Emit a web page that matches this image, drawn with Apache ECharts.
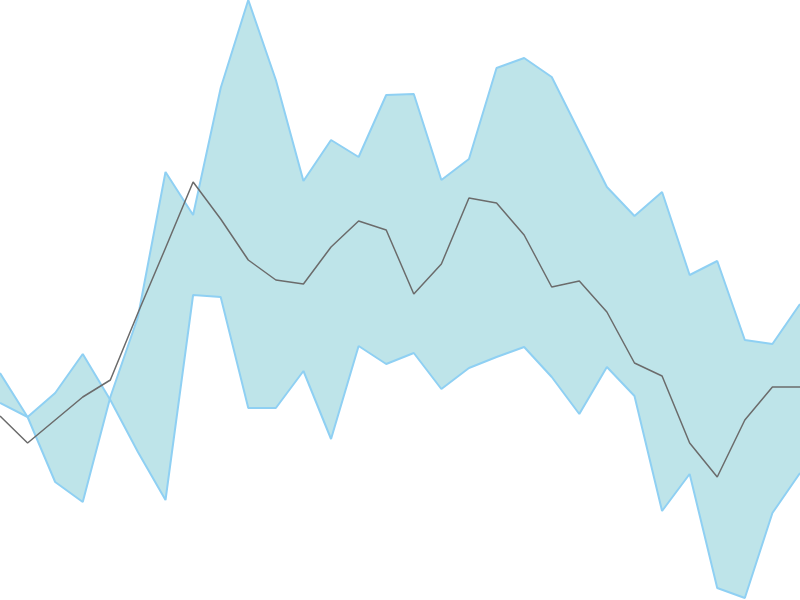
<!DOCTYPE html>
<html>
<head>
<meta charset="utf-8">
<script src="https://cdn.jsdelivr.net/npm/echarts@6/dist/echarts.min.js"></script>
<style>html,body{margin:0;padding:0;background:#fff}#c{width:800px;height:600px}</style>
</head>
<body>
<div id="c"></div>
<script>
const categories = Array.from({length: 30}, (_, i) => String(i + 1));
const lineA = [227, 183, 207, 246, 200, 148, 100, 305, 303, 192, 192, 229, 161, 254, 236, 247, 211, 232, 243, 253, 223, 186, 233, 204, 89, 126, 12, 2, 87, 127];
const lineB = [197, 183, 118, 98, 203, 283, 428, 385, 512, 600, 520, 419, 460, 443, 505, 506, 420, 441, 532, 542, 523, 468, 413, 384, 408, 325, 339, 260, 256, 296];
const middle = [184, 157, 180, 203, 220, 287, 352, 418, 381, 340, 320, 316, 353, 379, 370, 306, 336, 402, 397, 365, 313, 319, 288, 237, 224, 157, 123, 180, 213, 213];

const bandDiff = lineB.map((v, i) => v - lineA[i]);
const blue = '#8fd0f3';
const fill = '#bee4e9';

const chart = echarts.init(document.getElementById('c'));
chart.setOption({
  animation: false,
  grid: {left: 0, right: 0, top: 0, bottom: 0},
  xAxis: {type: 'category', data: categories, boundaryGap: false, show: false},
  yAxis: {type: 'value', min: 0, max: 600, show: false},
  series: [
    {type: 'line', data: lineA, stack: 'band', stackStrategy: 'all', symbol: 'none', lineStyle: {opacity: 0}, z: 1},
    {type: 'line', data: bandDiff, stack: 'band', stackStrategy: 'all', symbol: 'none', lineStyle: {opacity: 0}, areaStyle: {color: fill, opacity: 1}, z: 1},
    {type: 'line', data: lineA, symbol: 'none', lineStyle: {color: blue, width: 2}, z: 3},
    {type: 'line', data: lineB, symbol: 'none', lineStyle: {color: blue, width: 2}, z: 3},
    {type: 'line', data: middle, symbol: 'none', lineStyle: {color: '#6b6b6b', width: 1.5}, z: 4}
  ]
});
</script>
</body>
</html>
